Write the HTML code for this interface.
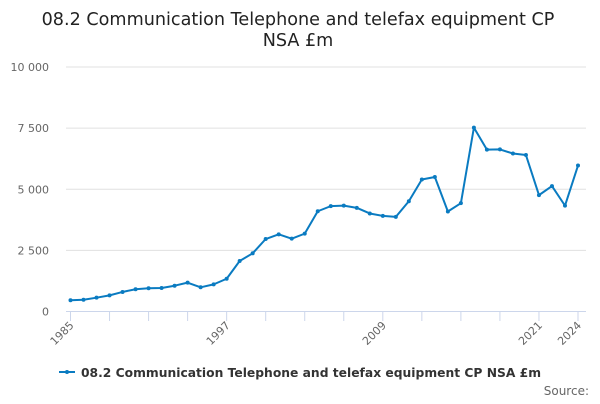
<!DOCTYPE html>
<html><head><meta charset="utf-8"><style>
body{margin:0;background:#fff;font-family:"DejaVu Sans","Liberation Sans",sans-serif;}
svg text{font-family:"DejaVu Sans","Liberation Sans",sans-serif;}
</style></head><body>
<svg id="c" width="600" height="400" xmlns="http://www.w3.org/2000/svg">
<text x="298" y="25" text-anchor="middle" font-size="17.6" fill="#222">08.2 Communication Telephone and telefax equipment CP</text>
<text x="298" y="46" text-anchor="middle" font-size="17.6" fill="#222">NSA £m</text>
<g id="grid"></g><g id="axes"></g><g id="series"></g>
<g>
<line x1="59" y1="372" x2="75" y2="372" stroke="#0a7bc1" stroke-width="2"/>
<circle cx="67" cy="372" r="2" fill="#0a7bc1"/>
<text x="81" y="377" font-size="12.3" font-weight="bold" fill="#333">08.2 Communication Telephone and telefax equipment CP NSA £m</text>
</g>
<text x="589" y="395" text-anchor="end" font-size="12" fill="#666">Source:</text>
</svg>
<script>
const years=[1985,1986,1987,1988,1989,1990,1991,1992,1993,1994,1995,1996,1997,1998,1999,2000,2001,2002,2003,2004,2005,2006,2007,2008,2009,2010,2011,2012,2013,2014,2015,2016,2017,2018,2019,2020,2021,2022,2023,2024];
const values=[460,480,565,660,800,910,950,960,1055,1180,990,1110,1340,2065,2380,2965,3155,2980,3185,4100,4310,4330,4240,4010,3910,3870,4510,5400,5500,4090,4430,7520,6620,6630,6460,6400,4760,5130,4330,5970];
const yTicks=[0,2500,5000,7500,10000];
const yTickLabels=["0","2 500","5 000","7 500","10 000"];
const xLabelYears=[1985,1997,2009,2021,2024];
const NS="http://www.w3.org/2000/svg";
const X=y=>70.5+(y-1985)*(578-70.5)/39;
const Y=v=>311.5-v*(311.5-67)/10000;
function mk(t,a,p){const e=document.createElementNS(NS,t);for(const k in a)e.setAttribute(k,a[k]);p.appendChild(e);return e;}
const g=document.getElementById('grid'),ax=document.getElementById('axes'),s=document.getElementById('series');
yTicks.forEach((v,i)=>{
 if(v>0){const l=mk('line',{x1:66,x2:586,y1:Y(v),y2:Y(v),stroke:'#e0e0e0','stroke-width':1},g);
 
 }
 const t=mk('text',{x:49,y:Y(v)+4,'text-anchor':'end','font-size':11,fill:'#666'},ax);t.textContent=yTickLabels[i];
 
 
});
const al=mk('line',{x1:66,x2:586,y1:311.5,y2:311.5,stroke:'#ccd6eb','stroke-width':1},ax);


for(let yr=1985;yr<=2024;yr+=3){const tk=mk('line',{x1:X(yr),x2:X(yr),y1:311.5,y2:321,stroke:'#ccd6eb'},ax);
 
 }
const tk2=mk('line',{x1:X(2024),x2:X(2024),y1:311.5,y2:321,stroke:'#ccd6eb'},ax);


xLabelYears.forEach(yr=>{const t=mk('text',{x:X(yr)+4,y:326,'text-anchor':'end','font-size':11,fill:'#666',transform:`rotate(-45 ${X(yr)+4} 326)`},ax);t.textContent=yr;
 
 });
const pts=years.map((yr,i)=>X(yr)+','+Y(values[i])).join(' ');
const pl=mk('polyline',{points:pts,fill:'none',stroke:'#0a7bc1','stroke-width':2,'stroke-linejoin':'round'},s);


years.forEach((yr,i)=>{const c=mk('circle',{cx:X(yr),cy:Y(values[i]),r:2,fill:'#0a7bc1'},s);
 
 });
</script>
</body></html>
